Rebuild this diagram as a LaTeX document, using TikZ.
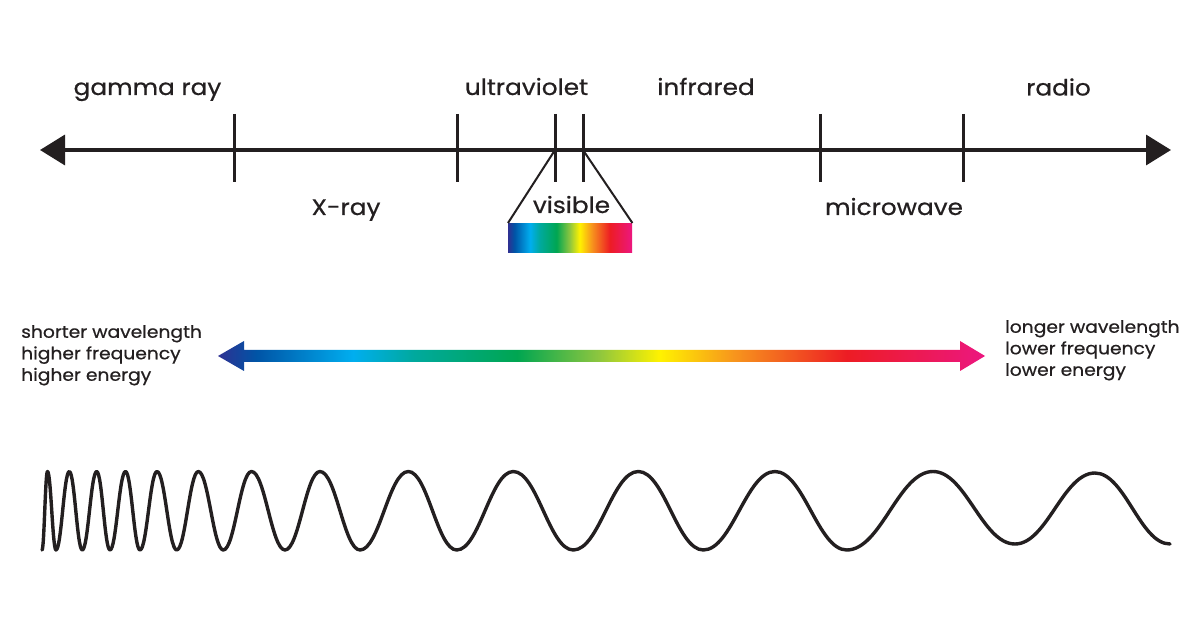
\documentclass[tikz,border=0pt]{standalone}
\usepackage{fontspec}
\setmainfont{Poppins}[FakeStretch=1.1, FakeBold=0.6]
\usetikzlibrary{arrows.meta}
\definecolor{ink}{HTML}{231F20}
\definecolor{sA}{HTML}{2E3192}
\definecolor{sB}{HTML}{0054A6}
\definecolor{sC}{HTML}{00AEEF}
\definecolor{sD}{HTML}{00A99D}
\definecolor{sE}{HTML}{00A651}
\definecolor{sF}{HTML}{8DC63F}
\definecolor{sG}{HTML}{FFF200}
\definecolor{sH}{HTML}{F7941D}
\definecolor{sI}{HTML}{ED1C24}
\definecolor{sJ}{HTML}{EC1780}
\pgfdeclarehorizontalshading{spectrum}{100bp}{color(0bp)=(sA); color(25bp)=(sA); color(27.5bp)=(sB); color(33.8bp)=(sC); color(37.8bp)=(sD); color(44.5bp)=(sE); color(49.8bp)=(sF); color(53.8bp)=(sG); color(58.7bp)=(sH); color(66bp)=(sI); color(75bp)=(sJ); color(100bp)=(sJ)}
\newcommand\wv[4]{.. controls ({#1+0.4*(#3-#1)},#2) and ({#3-0.4*(#3-#1)},#4) .. (#3,#4)}
\begin{document}
\begin{tikzpicture}[x=1pt,y=-1pt,
  lab/.style={font=\fontsize{22.5}{26}\selectfont, text=ink, anchor=base, inner sep=0},
  side/.style={font=\fontsize{17}{21.5}\selectfont, text=ink, align=left, inner sep=0, anchor=north west},
  axisline/.style={draw=ink, line width=3.5pt, {Triangle[length=25pt,width=30pt]}-{Triangle[length=25pt,width=30pt]}},
  tickmark/.style={draw=ink, line width=3pt},
  fanline/.style={draw=ink, line width=2pt},
  wave/.style={draw=ink, line width=3.4pt, line cap=round, line join=round}]
\useasboundingbox[fill=white] (0,0) rectangle (1200,628);

% axis
\coordinate (L) at (40,150);
\coordinate (R) at (1171,150);
\draw[axisline] (L) -- (R);
\coordinate (t1) at (234,150);
\coordinate (t2) at (457,150);
\coordinate (t3) at (555,150);
\coordinate (t4) at (583,150);
\coordinate (t5) at (820,150);
\coordinate (t6) at (963,150);
\foreach \t in {t1,t2,t3,t4,t5,t6}{
  \draw[tickmark] (\t) ++(0,-36) -- ++(0,68);
}

% labels
\node[lab] (gamma) at (147.5,95) {gamma ray};
\node[lab] (uv) at (526.5,95) {ultraviolet};
\node[lab] (ir) at (706,95) {infrared};
\node[lab] (radio) at (1058.5,95.5) {radio};
\node[lab] (xray) at (346,215) {X-ray};
\node[lab] (vis) at (571.5,213) {visible};
\node[lab] (micro) at (894,215) {microwave};

% visible band
\node[shading=spectrum, minimum width=124pt, minimum height=29pt, inner sep=0, anchor=north west] (band) at (508,223) {};
\draw[fanline] (t3) -- (band.north west);
\draw[fanline] (t4) -- (band.north east);

% gradient arrow
\coordinate (gL) at (218,356);
\coordinate (gR) at (985,356);
\shade[shading=spectrum] (gL) -- (244,341) -- (244,350) -- (960,350) -- (960,341) -- (gR) -- (960,371) -- (960,362) -- (244,362) -- (244,371) -- cycle;

\node[side] (left) at (21,325) {shorter wavelength\\higher frequency\\higher energy};
\node[side] (right) at (1005,320) {longer wavelength\\lower frequency\\lower energy};

% wave
\draw[wave] (42,550)
  \wv{42}{550}{47.5}{471.5}
  \wv{47.5}{471.5}{56}{550}
  \wv{56}{550}{69.3}{471.5}
  \wv{69.3}{471.5}{82.3}{550}
  \wv{82.3}{550}{96.7}{471.5}
  \wv{96.7}{471.5}{110}{550}
  \wv{110}{550}{125.5}{471.5}
  \wv{125.5}{471.5}{140}{550}
  \wv{140}{550}{157}{471.5}
  \wv{157}{471.5}{176.7}{550}
  \wv{176.7}{550}{198.3}{471.5}
  \wv{198.3}{471.5}{223.3}{550}
  \wv{223.3}{550}{251.5}{471.5}
  \wv{251.5}{471.5}{285}{550}
  \wv{285}{550}{320}{471.5}
  \wv{320}{471.5}{360}{550}
  \wv{360}{550}{408.3}{471.5}
  \wv{408.3}{471.5}{456.7}{550}
  \wv{456.7}{550}{513.3}{471.5}
  \wv{513.3}{471.5}{573.3}{550}
  \wv{573.3}{550}{638.3}{471.5}
  \wv{638.3}{471.5}{703.3}{550}
  \wv{703.3}{550}{775}{471.5}
  \wv{775}{471.5}{846.7}{550}
  \wv{846.7}{550}{933}{471.5}
  \wv{933}{471.5}{1015}{544}
  \wv{1015}{544}{1095}{473}
  \wv{1095}{473}{1170}{544};
\end{tikzpicture}
\end{document}
